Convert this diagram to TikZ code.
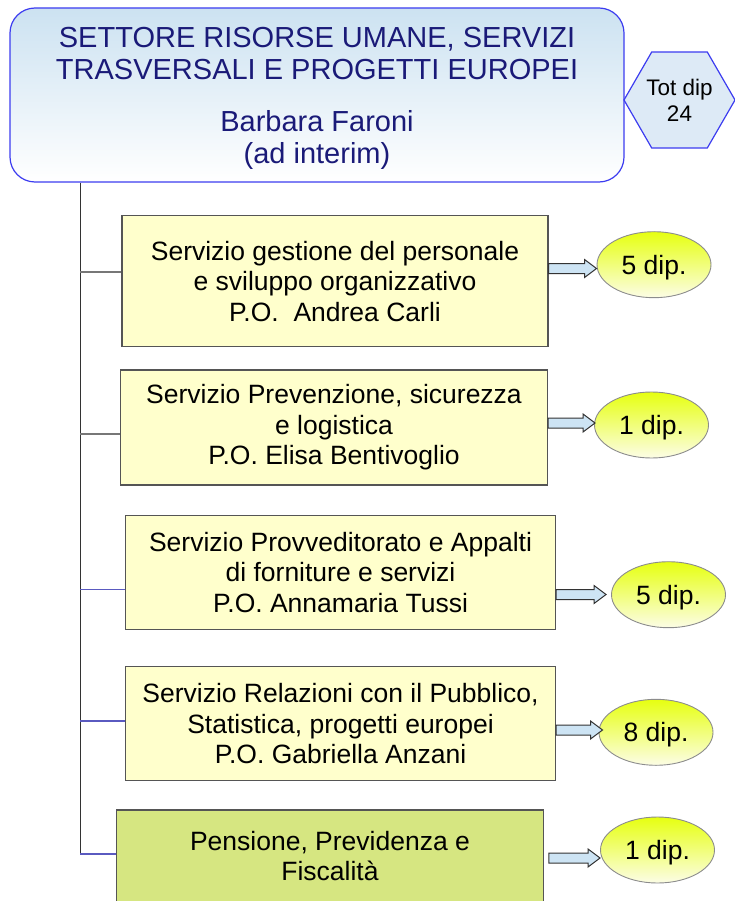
\documentclass[tikz,border=0pt]{standalone}
\usepackage{fontspec}
\setmainfont{Liberation Sans}
\usetikzlibrary{shapes.geometric,calc}
\definecolor{navy}{HTML}{1A1A78}
\definecolor{topblue}{HTML}{3C3CF0}
\definecolor{topgrad}{HTML}{CCE2F1}
\definecolor{hexfill}{HTML}{DDEAF6}
\definecolor{boxyellow}{HTML}{FFFFCC}
\definecolor{boxgreen}{HTML}{D6E681}
\definecolor{boxgray}{HTML}{555555}
\definecolor{elltop}{HTML}{E6FF10}
\definecolor{ellbot}{HTML}{FCFDE6}
\definecolor{ellgray}{HTML}{8C8C8C}
\definecolor{arrowfill}{HTML}{CDE4F4}
\definecolor{linkgray}{HTML}{777777}
\definecolor{linkblue}{HTML}{5A5AC0}
\tikzset{
  topbox/.style={draw=topblue, line width=1.2pt, rounded corners=25pt,
    top color=topgrad, bottom color=white, minimum width=614pt,
    minimum height=174pt, inner sep=0pt},
  toptext/.style={text=navy, align=center, inner sep=0pt,
    font=\fontsize{29}{32}\selectfont},
  hexbox/.style={draw=topblue, line width=1.2pt, fill=hexfill,
    regular polygon, regular polygon sides=6, minimum size=111pt,
    inner sep=0pt, align=center, font=\fontsize{22.5}{26}\selectfont},
  servbox/.style={draw=boxgray, line width=1.2pt, fill=boxyellow,
    align=center, inner sep=0pt, font=\fontsize{26.5}{30.5}\selectfont},
  dipell/.style={ellipse, draw=ellgray, line width=0.9pt, top color=elltop,
    bottom color=ellbot, minimum width=114pt, minimum height=66pt,
    inner sep=0pt, text depth=0pt, font=\fontsize{26.5}{30}\selectfont},
  trunk/.style={draw=black!80, line width=1pt},
  link/.style={line width=1.2pt},
  barrow/.style={draw=black!80, line width=1pt, fill=arrowfill,
    to path={let \p1=(\tikztostart), \p2=(\tikztotarget) in
      (\x1,\y1+5pt) -- (\x2-12pt,\y1+5pt) -- (\x2-12pt,\y1+9pt) -- (\x2,\y1)
      -- (\x2-12pt,\y1-9pt) -- (\x2-12pt,\y1-5pt) -- (\x1,\y1-5pt) -- cycle}}
}
\begin{document}
\begin{tikzpicture}[x=1pt,y=-1pt]
\useasboundingbox (0,0) rectangle (735,901);

% head
\node[topbox] (top) at (317,95) {};
\node[toptext] (toptxt) at (317,98.5) {SETTORE RISORSE UMANE, SERVIZI\\
TRASVERSALI E PROGETTI EUROPEI\\[20pt]
Barbara Faroni\\ (ad interim)};
\node[hexbox] (tot) at (679.5,100) {Tot dip\\ 24};

% services
\node[servbox, minimum width=426pt, minimum height=131pt] (s1) at (335,281.2)
  {Servizio gestione del personale\\ e sviluppo organizzativo\\ P.O.~ Andrea Carli};
\node[servbox, minimum width=427pt, minimum height=115pt] (s2) at (334,427.5)
  {Servizio Prevenzione, sicurezza\\ e logistica\\ P.O. Elisa Bentivoglio};
\node[servbox, minimum width=430pt, minimum height=113.5pt] (s3) at (340.5,572.4)
  {Servizio Provveditorato e Appalti\\ di forniture e servizi\\ P.O. Annamaria Tussi};
\node[servbox, minimum width=430pt, minimum height=114pt] (s4) at (340.5,723.7)
  {Servizio Relazioni con il Pubblico,\\ Statistica, progetti europei\\ P.O. Gabriella Anzani};
\node[servbox, fill=boxgreen, minimum width=426.6pt, minimum height=92pt] (s5) at (330,856)
  {Pensione, Previdenza e\\ Fiscalità};

% staff counts
\node[dipell] (e1) at (654,264.7) {5 dip.};
\node[dipell] (e2) at (651.5,425) {1 dip.};
\node[dipell] (e3) at (668.5,594.7) {5 dip.};
\node[dipell] (e4) at (656,732.3) {8 dip.};
\node[dipell] (e5) at (657.5,850) {1 dip.};

% trunk and links
\coordinate (v0) at (top.south -| 80,0);
\coordinate (c1) at (80,272);
\coordinate (c2) at (80,434);
\coordinate (c3) at (80,589.5);
\coordinate (c4) at (80,721);
\coordinate (c5) at (80,854);
\draw[trunk] (v0) -- (c5);
\draw[link, draw=linkgray] (c1) -- (c1 -| s1.west);
\draw[link, draw=linkgray] (c2) -- (c2 -| s2.west);
\draw[link, draw=linkblue] (c3) -- (c3 -| s3.west);
\draw[link, draw=linkblue] (c4) -- (c4 -| s4.west);
\draw[link, draw=linkblue] (c5) -- (c5 -| s5.west);

% arrows
\draw[barrow] (s1.east |- 0,268.5) to (e1.west |- 0,268.5);
\draw[barrow] (s2.east |- 0,423) to ([xshift=1pt]e2.west |- 0,423);
\draw[barrow] (s3.east |- 0,594.5) to ([xshift=-5pt]e3.west |- 0,594.5);
\draw[barrow] (s4.east |- 0,730) to ([xshift=4pt]e4.west |- 0,730);
\draw[barrow] ([xshift=5pt]s5.east |- 0,858) to (e5.west |- 0,858);
\end{tikzpicture}
\end{document}
